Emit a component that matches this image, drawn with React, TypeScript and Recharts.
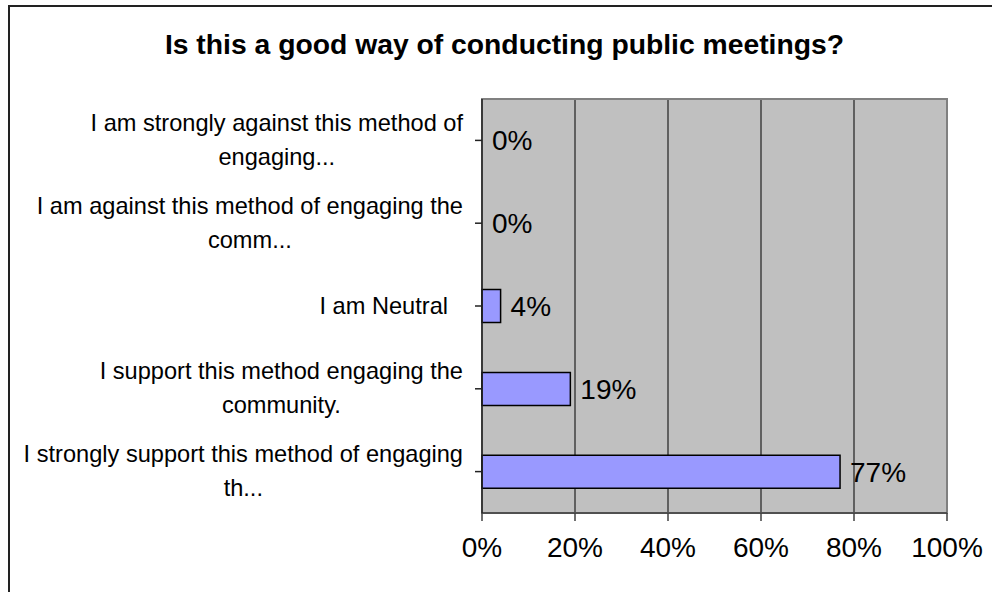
import { ComposedChart, Bar, Line, XAxis, YAxis, CartesianGrid, LabelList, ReferenceArea } from "recharts";

// survey answers, top to bottom; "\n" marks the wrapped second line
const categories = [
  "I am strongly against this method of\nengaging...",
  "I am against this method of engaging the\ncomm...",
  "I am Neutral",
  "I support this method engaging the\ncommunity.",
  "I strongly support this method of engaging\nth...",
];
const percentages = [0, 0, 4, 19, 77];
const xTicks = [0, 20, 40, 60, 80, 100];

const data = categories.map((name, i) => ({
  name,
  value: percentages[i],
  label: `${percentages[i]}%`,
}));

const FONT = "'Liberation Sans', Arial, sans-serif";
const CAT_SIZE = 23.6;

let measureCtx: CanvasRenderingContext2D | null = null;
function textWidth(s: string, size: number) {
  if (!measureCtx) measureCtx = document.createElement("canvas").getContext("2d");
  if (!measureCtx) return s.length * size * 0.5;
  measureCtx.font = `${size}px 'Liberation Sans', Arial`;
  return measureCtx.measureText(s).width;
}

function CategoryTick({ x, y, payload }: any) {
  const lines = String(payload.value).split("\n");
  if (lines.length === 1) {
    return (
      <text x={x - 15} y={y} textAnchor="end" dominantBaseline="central" fontSize={CAT_SIZE} fontFamily={FONT} fill="#000">
        {lines[0]}
      </text>
    );
  }
  const cx = x - textWidth(lines[0], CAT_SIZE) / 2;
  return (
    <text textAnchor="middle" fontSize={CAT_SIZE} fontFamily={FONT} fill="#000">
      <tspan x={cx} y={y - 17.5} dominantBaseline="central">{lines[0]}</tspan>
      <tspan x={cx} y={y + 16.5} dominantBaseline="central">{lines[1]}</tspan>
    </text>
  );
}

export default function App() {
  return (
    <div style={{ position: "absolute", left: 0, top: 0, width: 992, height: 592, overflow: "hidden", background: "#fff" }}>
      <div
        style={{
          position: "absolute",
          left: 8,
          top: 5,
          width: 1000,
          height: 600,
          border: "2px solid #222",
          boxSizing: "border-box",
        }}
      />
      <div
        style={{
          position: "absolute",
          left: 0,
          width: 1009,
          top: 24,
          textAlign: "center",
          fontFamily: FONT,
          fontWeight: "bold",
          fontSize: 28.3,
          lineHeight: "40px",
        }}
      >
        Is this a good way of conducting public meetings?
      </div>
      <div style={{ position: "absolute", left: 0, top: 0 }}>
        <ComposedChart
          width={992}
          height={592}
          data={data}
          layout="vertical"
          margin={{ top: 99, right: 45, bottom: 29, left: 0 }}
          barSize={33}
        >
          <CartesianGrid horizontal={false} stroke="#000" fill="#C0C0C0" fillOpacity={1} />
          <XAxis
            type="number"
            domain={[0, 100]}
            ticks={xTicks}
            interval={0}
            tickFormatter={(v) => `${v}%`}
            height={50}
            stroke="#404040"
            strokeWidth={1.5}
            tickSize={8}
            tickMargin={16}
            tick={{ fontSize: 28, fontFamily: FONT, fill: "#000" }}
          />
          <YAxis
            type="category"
            dataKey="name"
            width={482}
            stroke="#222"
            strokeWidth={1.5}
            tickSize={7}
            tickMargin={12}
            tick={<CategoryTick />}
            interval={0}
          />
          <ReferenceArea x1={0} x2={100} fill="none" stroke="#808080" strokeWidth={2} />
          <Bar dataKey="value" fill="#9999FF" stroke="#000" strokeWidth={1.5} isAnimationActive={false} />
          {/* invisible series that carries the value labels, so 0% still gets one */}
          <Line
            dataKey="value"
            stroke="none"
            dot={false}
            activeDot={false}
            isAnimationActive={false}
            legendType="none"
          >
            <LabelList
              dataKey="label"
              position="right"
              offset={10}
              style={{ fontSize: 28, fontFamily: FONT, fill: "#000" }}
            />
          </Line>
        </ComposedChart>
      </div>
    </div>
  );
}
